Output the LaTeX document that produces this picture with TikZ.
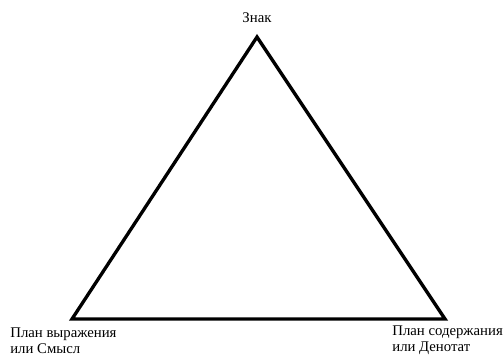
\documentclass[tikz,border=0pt]{standalone}
\usepackage{fontspec}
\setmainfont{Liberation Serif}
\usetikzlibrary{positioning}
\tikzset{
	vertex/.style = {circle, inner sep=0pt, minimum size=0pt},
	term/.style = {inner sep=0pt, align=left, font=\fontsize{8.4pt}{9.2pt}\selectfont},
}

\begin{document}
\begin{tikzpicture}[x=0.02cm,y=-0.02cm]
	\useasboundingbox (0,0) rectangle (503,355);
               \node (Znak) [vertex] at (257,37) {};
               \node (Expr) [vertex] at (72,319) {};
               \node (Cont) [vertex] at (445,319) {};
               \draw[line width=1.9pt, line join=miter] (Znak.center) -- (Expr.center) -- (Cont.center) -- cycle;
               \node (ZnakText) [term, anchor=south] at (257,23) {Знак};
               \node (ExprText) [term, anchor=north west] at (10,327) {План выражения\\или Смысл};
               \node (ContText) [term, anchor=north west] at (392,325) {План содержания\\или Денотат};
        \end{tikzpicture}
\end{document}
